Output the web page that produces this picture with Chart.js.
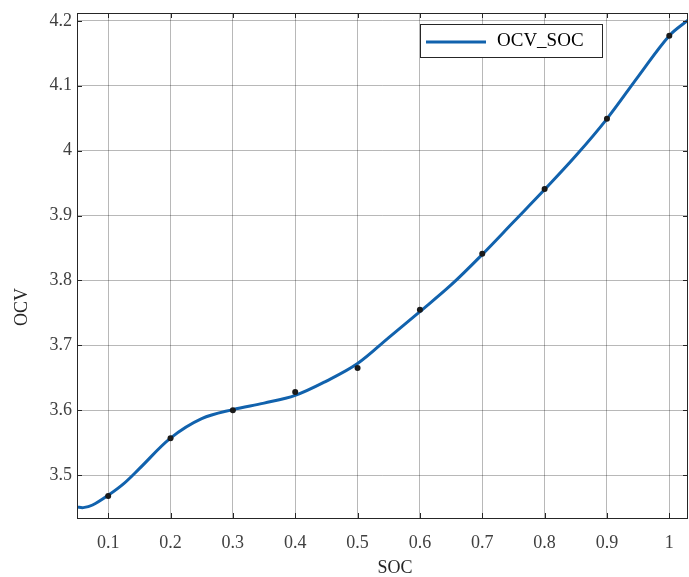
<!DOCTYPE html>
<html>
<head>
<meta charset="utf-8">
<script src="https://cdn.jsdelivr.net/npm/chart.js@4.4.0/dist/chart.umd.min.js"></script>
<style>
html,body{margin:0;padding:0;background:#fff;}
#wrap{width:689px;height:577px;position:relative;}
</style>
</head>
<body>
<div id="wrap"><canvas id="c" width="689" height="577"></canvas></div>
<script>
// Measured sample points
const socPoints = [0.1, 0.2, 0.3, 0.4, 0.5, 0.6, 0.7, 0.8, 0.9, 1.0];
const ocvPoints = [3.468, 3.557, 3.600, 3.628, 3.665, 3.755, 3.841, 3.941, 4.049, 4.177];
// Fitted curve
const fitSoc = [0.05, 0.06, 0.075, 0.1, 0.125, 0.15, 0.2, 0.25, 0.3, 0.35, 0.4, 0.45, 0.5, 0.55, 0.6, 0.65, 0.7, 0.75, 0.8, 0.85, 0.9, 0.95, 1.0, 1.03];
const fitOcv = [3.451, 3.450, 3.454, 3.469, 3.487, 3.510, 3.557, 3.587, 3.601, 3.611, 3.623, 3.645, 3.672, 3.712, 3.752, 3.793, 3.840, 3.890, 3.940, 3.992, 4.049, 4.114, 4.177, 4.201];
// Axis ticks
const xTickValues = [0.1, 0.2, 0.3, 0.4, 0.5, 0.6, 0.7, 0.8, 0.9, 1.0];
const xTickLabels = ['0.1', '0.2', '0.3', '0.4', '0.5', '0.6', '0.7', '0.8', '0.9', '1'];
const yTickValues = [3.5, 3.6, 3.7, 3.8, 3.9, 4.0, 4.1, 4.2];
const yTickLabels = ['3.5', '3.6', '3.7', '3.8', '3.9', '4', '4.1', '4.2'];
const seriesName = 'OCV_SOC';
const xTitle = 'SOC';
const yTitle = 'OCV';

const FONT = "'Liberation Serif', 'Times New Roman', serif";
const LINE_COLOR = '#1162ad';

const boxPlugin = {
  id: 'box',
  afterDraw(chart) {
    const {ctx, chartArea: a, scales} = chart;
    ctx.save();
    // inner ticks
    ctx.strokeStyle = '#262626';
    ctx.lineWidth = 1;
    const tl = 5;
    ctx.beginPath();
    xTickValues.forEach(v => {
      const x = Math.round(scales.x.getPixelForValue(v)) + 0.5;
      ctx.moveTo(x, a.bottom); ctx.lineTo(x, a.bottom - tl);
      ctx.moveTo(x, a.top); ctx.lineTo(x, a.top + tl);
    });
    yTickValues.forEach(v => {
      const y = Math.round(scales.y.getPixelForValue(v)) + 0.5;
      ctx.moveTo(a.left, y); ctx.lineTo(a.left + tl, y);
      ctx.moveTo(a.right, y); ctx.lineTo(a.right - tl, y);
    });
    ctx.stroke();
    // box
    ctx.strokeStyle = '#262626';
    ctx.strokeRect(Math.round(a.left) + 0.5, Math.round(a.top) + 0.5, Math.round(a.right - a.left) - 1, Math.round(a.bottom - a.top));
    // legend
    const lx = 420, ly = 24, lw = 182, lh = 33;
    ctx.fillStyle = '#fff';
    ctx.fillRect(lx, ly, lw, lh);
    ctx.strokeStyle = '#262626';
    ctx.strokeRect(lx + 0.5, ly + 0.5, lw, lh);
    ctx.strokeStyle = LINE_COLOR;
    ctx.lineWidth = 3;
    ctx.beginPath();
    ctx.moveTo(426, ly + 18); ctx.lineTo(486, ly + 18);
    ctx.stroke();
    ctx.fillStyle = '#000';
    ctx.font = '19px ' + FONT;
    ctx.textBaseline = 'middle';
    ctx.textAlign = 'left';
    ctx.fillText(seriesName, 497, ly + 17);
    // axis titles
    ctx.fillStyle = '#262626';
    ctx.font = '18px ' + FONT;
    ctx.textAlign = 'center';
    ctx.fillText(xTitle, 395, 568);
    ctx.translate(22, 307);
    ctx.rotate(-Math.PI / 2);
    ctx.fillText(yTitle, 0, 0);
    ctx.restore();
  }
};

new Chart(document.getElementById('c'), {
  type: 'scatter',
  data: {
    datasets: [
      {
        label: 'points',
        data: socPoints.map((x, i) => ({x, y: ocvPoints[i]})),
        pointRadius: 3,
        pointBackgroundColor: '#1a1a1a',
        pointBorderColor: '#1a1a1a',
        pointBorderWidth: 0,
        showLine: false,
        order: 0
      },
      {
        label: seriesName,
        data: fitSoc.map((x, i) => ({x, y: fitOcv[i]})),
        showLine: true,
        borderColor: LINE_COLOR,
        borderWidth: 3,
        pointRadius: 0,
        tension: 0.35,
        order: 1
      }
    ]
  },
  options: {
    responsive: false,
    animation: false,
    devicePixelRatio: 1,
    layout: {autoPadding: false, padding: {top: 13, right: 1, left: 0, bottom: 0}},
    plugins: {legend: {display: false}, tooltip: {enabled: false}},
    scales: {
      x: {
        type: 'linear',
        min: 0.05, max: 1.03,
        afterBuildTicks: s => { s.ticks = xTickValues.map(v => ({value: v})); },
        afterFit: s => { s.height = 59; s.paddingLeft = 0; s.paddingRight = 0; },
        ticks: {
          callback: (v, i) => xTickLabels[i],
          color: '#404040',
          font: {family: FONT, size: 18},
          padding: 14,
          maxRotation: 0,
          autoSkip: false
        },
        grid: {color: 'rgba(0,0,0,0.28)', drawTicks: false, lineWidth: 1},
        border: {display: false}
      },
      y: {
        type: 'linear',
        min: 3.434, max: 4.212,
        afterBuildTicks: s => { s.ticks = yTickValues.map(v => ({value: v})); },
        afterFit: s => { s.width = 77; s.paddingTop = 0; s.paddingBottom = 0; },
        ticks: {
          callback: (v, i) => yTickLabels[i],
          color: '#404040',
          font: {family: FONT, size: 18},
          padding: 5,
          autoSkip: false
        },
        grid: {color: 'rgba(0,0,0,0.28)', drawTicks: false, lineWidth: 1},
        border: {display: false}
      }
    }
  },
  plugins: [boxPlugin]
});
</script>
</body>
</html>
